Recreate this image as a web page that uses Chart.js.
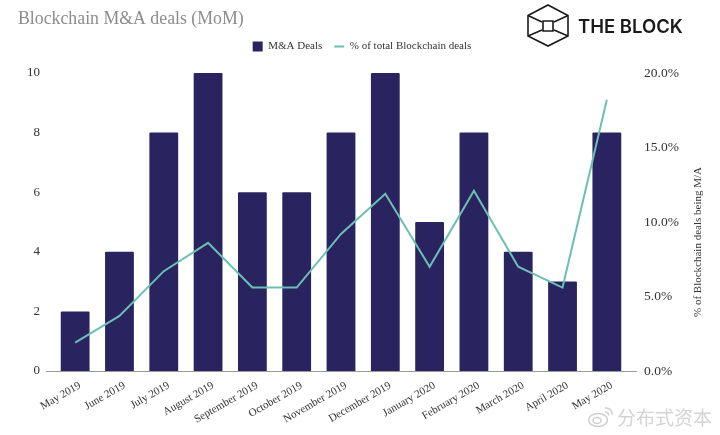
<!DOCTYPE html>
<html>
<head>
<meta charset="utf-8">
<title>Blockchain M&amp;A deals (MoM)</title>
<script src="https://cdn.jsdelivr.net/npm/chart.js@4"></script>
<style>
    html, body { margin: 0; padding: 0; background: #fff; }
    #wrap { position: relative; width: 720px; height: 435px; overflow: hidden; }
    #logo { position: absolute; left: 525px; top: 3px; }
    #logoText { position: absolute; left: 578px; top: 15px; font: 600 18.5px "Inter", sans-serif; color: #1a1a1a; white-space: nowrap; }
    #mark { position: absolute; left: 617px; top: 403px; font: 19px "Noto Sans CJK SC", sans-serif; color: #d4d4d4; white-space: nowrap; }
    #markIcon { position: absolute; left: 587px; top: 405px; }
</style>
</head>
<body>
<div id="wrap">
    <canvas id="chart" width="720" height="435"></canvas>
    <svg id="logo" width="46" height="46" viewBox="0 0 46 46" fill="none" stroke="#1a1a1a" stroke-width="1.6">
        <path d="M23 2 L43 12.5 L43 33 L23 43 L3 33 L3 12.5 Z"/>
        <path d="M3 12.5 L17 19 M43 12.5 L29 19 M3 33 L17 27 M43 33 L29 27"/>
        <path d="M18 18 L28 18 L28 28 L18 28 Z"/>
    </svg>
    <div id="logoText">THE BLOCK</div>
    <svg id="markIcon" width="28" height="24" viewBox="0 0 28 24" fill="none" stroke="#cfcfcf" stroke-width="1.5">
        <ellipse cx="11" cy="15" rx="9.5" ry="6.5"/>
        <ellipse cx="10" cy="15.5" rx="4" ry="3"/>
        <path d="M18 3 a6 6 0 0 1 7 7 M18 7 a3 3 0 0 1 3.5 3.5"/>
    </svg>
    <div id="mark">分布式资本</div>
</div>
<script>
const months = ['May 2019', 'June 2019', 'July 2019', 'August 2019', 'September 2019', 'October 2019',
    'November 2019', 'December 2019', 'January 2020', 'February 2020', 'March 2020', 'April 2020', 'May 2020'];
const deals = [2, 4, 8, 10, 6, 6, 8, 10, 5, 8, 4, 3, 8];
const sharePct = [1.9, 3.7, 6.7, 8.6, 5.6, 5.6, 9.2, 11.9, 7.0, 12.1, 7.0, 5.6, 18.2];
const rightAxisTitle = '% of Blockchain deals being M/A';

const SERIF = '"Liberation Serif", serif';
const TEXT = '#333333';

// baseline runs a little past the first and last bars, axis title reads bottom to top
const extras = {
    id: 'extras',
    afterDatasetsDraw(chart) {
        const { ctx, chartArea } = chart;
        ctx.save();
        ctx.strokeStyle = '#9a9a9a';
        ctx.lineWidth = 1.2;
        ctx.beginPath();
        ctx.moveTo(chartArea.left - 7, chartArea.bottom + 0.5);
        ctx.lineTo(chartArea.right + 8, chartArea.bottom + 0.5);
        ctx.stroke();

        ctx.translate(698, 242);
        ctx.rotate(-Math.PI / 2);
        ctx.fillStyle = TEXT;
        ctx.font = '11px ' + SERIF;
        ctx.textAlign = 'center';
        ctx.textBaseline = 'middle';
        ctx.fillText(rightAxisTitle, 0, 0);
        ctx.restore();
    }
};

new Chart(document.getElementById('chart').getContext('2d'), {
    data: {
        labels: months,
        datasets: [
            {
                type: 'line',
                label: '% of total Blockchain deals',
                data: sharePct,
                yAxisID: 'y1',
                borderColor: '#6dbfb4',
                backgroundColor: '#6dbfb4',
                borderWidth: 2,
                tension: 0,
                pointRadius: 0,
                pointStyle: 'line',
                order: 1
            },
            {
                type: 'bar',
                label: 'M&A Deals',
                data: deals,
                yAxisID: 'y',
                backgroundColor: '#29245f',
                borderRadius: 1,
                categoryPercentage: 1,
                barPercentage: 0.65,
                pointStyle: 'rect',
                order: 2
            }
        ]
    },
    plugins: [extras],
    options: {
        responsive: false,
        animation: false,
        layout: { padding: { left: 18, right: 14, top: 0, bottom: 0 } },
        plugins: {
            title: {
                display: true,
                text: 'Blockchain M&A deals (MoM)',
                align: 'start',
                color: '#8c8c8c',
                font: { family: SERIF, size: 17.8, weight: 'normal', lineHeight: 1 },
                padding: { top: 0, bottom: 1 }
            },
            legend: {
                position: 'top',
                reverse: true,
                labels: {
                    usePointStyle: true,
                    pointStyleWidth: 10,
                    boxHeight: 10,
                    color: TEXT,
                    font: { family: SERIF, size: 11 },
                    padding: 12
                }
            },
            tooltip: { enabled: false }
        },
        scales: {
            x: {
                grid: { display: false },
                border: { display: false },
                ticks: {
                    color: TEXT,
                    font: { family: SERIF, size: 11 },
                    minRotation: 30,
                    maxRotation: 30,
                    autoSkip: false,
                    padding: 0,
                    labelOffset: 5
                },
                afterFit(scale) { scale.height = 64; }
            },
            // empty top axis, only keeps the legend clear of the bars
            gap: {
                position: 'top',
                type: 'category',
                labels: months,
                grid: { display: false },
                border: { display: false },
                ticks: { display: false },
                afterFit(scale) { scale.height = 11; }
            },
            y: {
                position: 'left',
                min: 0,
                max: 10,
                grid: { display: false },
                border: { display: false },
                ticks: {
                    stepSize: 2,
                    color: TEXT,
                    font: { family: SERIF, size: 13 },
                    padding: 5
                },
                afterFit(scale) {
                    scale.width = 35;
                    scale.paddingTop = 73;
                }
            },
            y1: {
                position: 'right',
                min: 0,
                max: 20,
                grid: { display: false },
                border: { display: false },
                ticks: {
                    stepSize: 5,
                    color: TEXT,
                    font: { family: SERIF, size: 13.5 },
                    padding: 7,
                    callback: v => v.toFixed(1) + '%'
                },
                afterFit(scale) { scale.width = 77; }
            }
        }
    }
});
</script>
</body>
</html>
